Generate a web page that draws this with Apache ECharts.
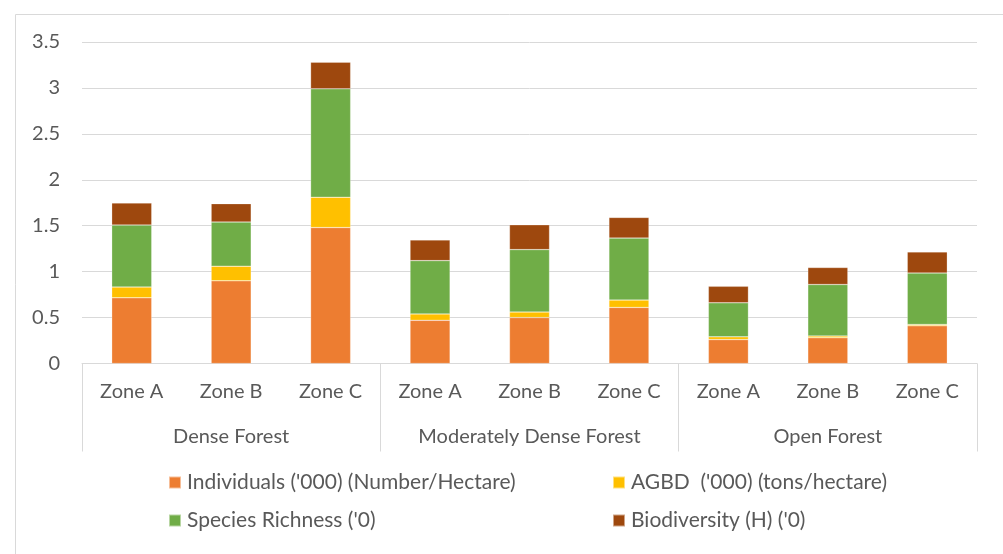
<!DOCTYPE html>
<html>
<head>
<meta charset="utf-8">
<script src="https://cdn.jsdelivr.net/npm/echarts@6/dist/echarts.min.js"></script>
<style>
html,body{margin:0;padding:0;background:#fff;}
#chart{width:1003px;height:554px;}
</style>
</head>
<body>
<div id="chart"></div>
<script>
const zones = ['Zone A','Zone B','Zone C','Zone A','Zone B','Zone C','Zone A','Zone B','Zone C'];
const groups = ['Dense Forest','Moderately Dense Forest','Open Forest'];
const individuals = [0.715, 0.90, 1.48, 0.47, 0.50, 0.61, 0.26, 0.28, 0.41];
const agbd        = [0.117, 0.16, 0.33, 0.07, 0.06, 0.08, 0.03, 0.02, 0.015];
const species     = [0.675, 0.48, 1.18, 0.58, 0.68, 0.675, 0.37, 0.56, 0.56];
const biodiversity= [0.24, 0.20, 0.29, 0.225, 0.27, 0.225, 0.18, 0.185, 0.23];
const seriesNames = ["Individuals ('000) (Number/Hectare)", "AGBD  ('000) (tons/hectare)", "Species Richness ('0)", "Biodiversity (H) ('0)"];
const colors = ['#ED7D31','#FFC000','#70AD47','#9E480E'];
const yTicks = {min:0, max:3.5, interval:0.5};

const FONT = 'Lato';
const TXT = '#595959';
const GRID = '#d9d9d9';
const AX_FS = 20;
const LG_FS = 21;

const chart = echarts.init(document.getElementById('chart'), null, {renderer:'canvas'});
const dataSets = [individuals, agbd, species, biodiversity];

function legendAt(name, left, top){
  return {
    data:[name], left:left, top:top, orient:'horizontal',
    itemWidth:12, itemHeight:12, itemGap:0, padding:0,
    icon:'rect',
    textStyle:{fontFamily:FONT, fontSize:LG_FS, color:TXT, padding:[0,0,0,1]},
    selectedMode:false
  };
}

chart.setOption({
  animation:false,
  textStyle:{fontFamily:FONT},
  graphic:[{
    type:'rect', silent:true,
    shape:{x:15.5, y:14.5, width:1100, height:700},
    style:{fill:'none', stroke:GRID, lineWidth:1}
  }],
  grid:{left:82, right:26, top:42, bottom:190.5, containLabel:false},
  legend:[
    legendAt(seriesNames[0], 168, 472),
    legendAt(seriesNames[1], 612, 472),
    legendAt(seriesNames[2], 168, 510),
    legendAt(seriesNames[3], 612, 510)
  ],
  xAxis:[{
    type:'category', data:zones, position:'bottom',
    axisLine:{show:true, lineStyle:{color:GRID, width:1}},
    axisTick:{show:false},
    axisLabel:{interval:0, margin:18, fontFamily:FONT, fontSize:AX_FS, color:TXT}
  },{
    type:'category', data:groups, position:'bottom', offset:0,
    axisLine:{show:false},
    axisTick:{show:true, length:88, lineStyle:{color:GRID, width:1}},
    axisLabel:{interval:0, margin:63, fontFamily:FONT, fontSize:AX_FS, color:TXT},
    splitLine:{show:false}
  }],
  yAxis:{
    type:'value', min:yTicks.min, max:yTicks.max, interval:yTicks.interval,
    axisLine:{show:false}, axisTick:{show:false},
    axisLabel:{margin:22, fontFamily:FONT, fontSize:AX_FS, color:TXT},
    splitLine:{lineStyle:{color:GRID, width:1}}
  },
  series: dataSets.map((d,i)=>({
    name:seriesNames[i], type:'bar', stack:'total', xAxisIndex:0,
    data:d, barWidth:40,
    itemStyle:{color:colors[i], borderColor:'rgba(255,255,255,0.5)', borderWidth:0.5}
  }))
});
</script>
</body>
</html>
